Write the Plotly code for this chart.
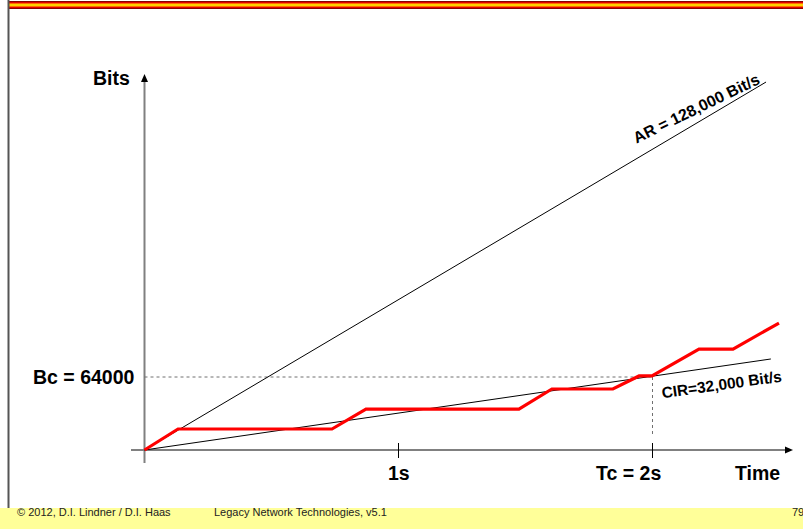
import plotly.graph_objects as go

W, H = 803, 529

# data (time in s, volume in bits)
burst_t = [0, 0.132, 0.738, 0.872, 1.474, 1.604, 1.844, 1.947, 1.998, 2.183, 2.317, 2.498]
burst_bits = [0, 18400, 18400, 35900, 35900, 53500, 53500, 64900, 64900, 88500, 88500, 111300]
ar_t = [0, 2.447]
ar_bits = [0, 322600]
cir_t = [0, 2.466]
cir_bits = [0, 79800]
bc_bits = 64000
tc = 2.0
tick_t = [1, 2]
tick_labels = ["1s", "Tc = 2s"]

# pixel mapping of the drawing (origin at 144.5, 450 px)
px_per_s = 254
bits_per_px = 64000 / 73
x0_px, y0_px = 144.5, 450


def t_at(px):
    return (px - x0_px) / px_per_s


def b_at(py):
    return (y0_px - py) * bits_per_px


FONT = "Liberation Sans, Arial, sans-serif"

fig = go.Figure()

fig.add_trace(go.Scatter(x=ar_t, y=ar_bits, mode="lines",
                         line=dict(color="black", width=1), hoverinfo="skip"))
fig.add_trace(go.Scatter(x=cir_t, y=cir_bits, mode="lines",
                         line=dict(color="black", width=1), hoverinfo="skip"))
fig.add_trace(go.Scatter(x=burst_t, y=burst_bits, mode="lines",
                         line=dict(color="#ff0000", width=3.2), hoverinfo="skip"))

shapes = []
# axes
shapes.append(dict(type="line", xref="x", yref="y", x0=t_at(131), x1=t_at(789),
                   y0=0, y1=0, line=dict(color="#808080", width=2), layer="below"))
shapes.append(dict(type="line", xref="x", yref="y", x0=0, x1=0,
                   y0=b_at(463), y1=b_at(79), line=dict(color="#808080", width=2), layer="below"))
# ticks
for t in tick_t:
    shapes.append(dict(type="line", xref="x", yref="y", x0=t, x1=t,
                       y0=b_at(458), y1=b_at(443), line=dict(color="black", width=1)))
# Bc / Tc guides
shapes.append(dict(type="line", xref="x", yref="y", x0=0, x1=tc, y0=bc_bits, y1=bc_bits,
                   line=dict(color="#707070", width=1, dash="dot"), layer="below"))
shapes.append(dict(type="line", xref="x", yref="y", x0=tc, x1=tc, y0=bc_bits, y1=b_at(437),
                   line=dict(color="#707070", width=1, dash="dot"), layer="below"))
# arrow heads
shapes.append(dict(type="path", xref="x", yref="y",
                   path=f"M {t_at(793)},0 L {t_at(785)},{b_at(446.5)} L {t_at(785)},{b_at(453.5)} Z",
                   fillcolor="black", line=dict(width=0)))
shapes.append(dict(type="path", xref="x", yref="y",
                   path=f"M 0,{b_at(74)} L {t_at(141)},{b_at(82)} L {t_at(148)},{b_at(82)} Z",
                   fillcolor="black", line=dict(width=0)))

# slide decoration: top stripe, left rule, footer band
stripe = ["#8b0000", "#e00000", "#ff6a00", "#ffd000", "#ffd000", "#ff6a00", "#e00000", "#8b0000"]
for i, c in enumerate(stripe):
    shapes.append(dict(type="rect", xref="paper", yref="paper", x0=9 / W, x1=1,
                       y0=1 - (2 + i) / H, y1=1 - (1 + i) / H, fillcolor=c, line=dict(width=0)))
shapes.append(dict(type="line", xref="paper", yref="paper", x0=8.5 / W, x1=8.5 / W,
                   y0=1 - 508 / H, y1=1, line=dict(color="#555555", width=2)))
shapes.append(dict(type="rect", xref="paper", yref="paper", x0=0, x1=1, y0=0, y1=1 - 508 / H,
                   fillcolor="#ffff99", line=dict(width=0), layer="below"))

ann = []
big = dict(family=FONT, size=19.5, color="black")
ann.append(dict(x=t_at(111), y=b_at(78), text="<b>Bits</b>", showarrow=False, font=big))
ann.append(dict(x=t_at(137), y=bc_bits, text="<b>Bc = 64000</b>", xanchor="right",
                showarrow=False, font=big))
for t, lab in zip(tick_t, tick_labels):
    ann.append(dict(x=t if t == 1 else t_at(628), y=b_at(473), text=f"<b>{lab}</b>",
                    showarrow=False, font=big))
ann.append(dict(x=t_at(757.5), y=b_at(473), text="<b>Time</b>", showarrow=False, font=big))
ann.append(dict(x=t_at(696), y=b_at(108), text="<b>AR = 128,000 Bit/s</b>", textangle=-26,
                showarrow=False, font=dict(family=FONT, size=16, color="black")))
ann.append(dict(x=t_at(721), y=b_at(384), text="<b>CIR=32,000 Bit/s</b>", textangle=-8,
                showarrow=False, font=dict(family=FONT, size=15.5, color="black")))

small = dict(family=FONT, size=11, color="#222222")
ann.append(dict(xref="paper", yref="paper", x=15 / W, y=1 - 520 / H, xanchor="left",
                text="© 2012, D.I. Lindner / D.I. Haas", showarrow=False, font=small))
ann.append(dict(xref="paper", yref="paper", x=212 / W, y=1 - 520 / H, xanchor="left",
                text="Legacy Network Technologies, v5.1", showarrow=False, font=small))
ann.append(dict(xref="paper", yref="paper", x=790 / W, y=1 - 520 / H, xanchor="left",
                text="79", showarrow=False, font=small))

fig.update_layout(
    width=W, height=H,
    margin=dict(l=0, r=0, t=0, b=0),
    paper_bgcolor="white", plot_bgcolor="white",
    showlegend=False,
    xaxis=dict(visible=False, range=[t_at(0), t_at(W)], fixedrange=True),
    yaxis=dict(visible=False, range=[b_at(H), b_at(0)], fixedrange=True),
    shapes=shapes,
    annotations=ann,
)

fig.write_html("out.html", config={"displayModeBar": False},
               post_script="document.body.style.margin='0px';")
